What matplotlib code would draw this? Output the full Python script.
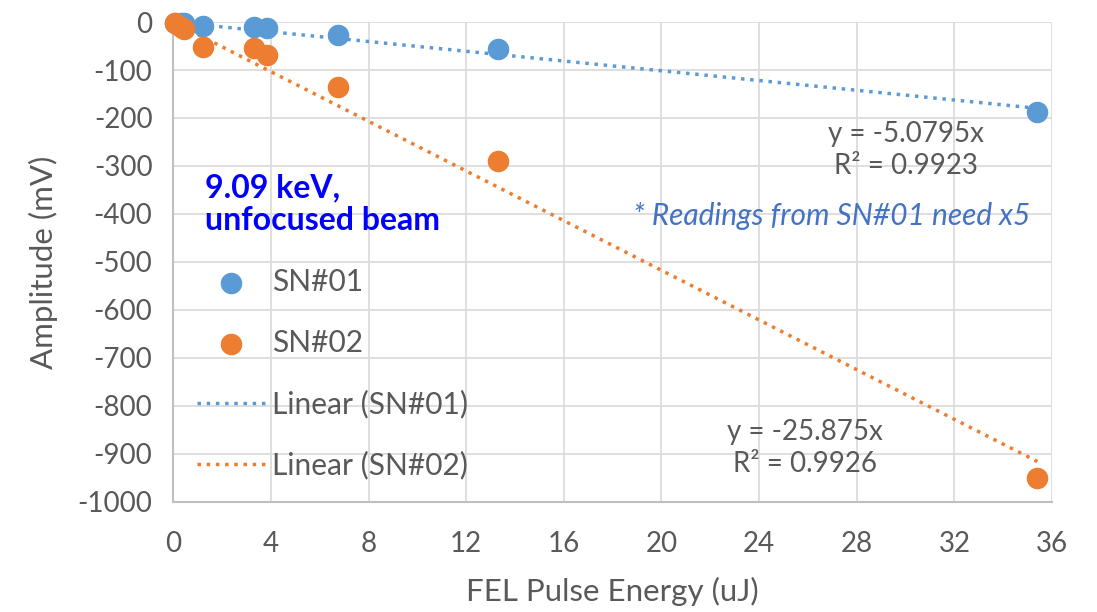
import numpy as np
import matplotlib.pyplot as plt

plt.rcParams['font.family'] = ['Lato', 'DejaVu Sans']
plt.rcParams['axes.unicode_minus'] = False

energy = [0.08, 0.3, 0.45, 1.2, 3.3, 3.85, 6.75, 13.3, 35.4]
amp_sn01 = [-1, -2, -3, -9, -10, -12, -27, -57, -187]
amp_sn02 = [-2, -10, -15, -52, -54, -69, -136, -290, -950]
slope_sn01, r2_sn01 = -5.0795, 0.9923
slope_sn02, r2_sn02 = -25.875, 0.9926

blue, orange = '#5B9BD5', '#ED7D31'
gray = '#595959'

fig = plt.figure(figsize=(10.97, 6.12), dpi=100)
ax = fig.add_axes([0.158, 0.18, 0.801, 0.784])

ax.scatter(energy, amp_sn01, s=210, color=blue, label='SN#01', zorder=3, clip_on=False)
ax.scatter(energy, amp_sn02, s=210, color=orange, label='SN#02', zorder=3, clip_on=False)

xfit = np.array([0, max(energy)])
ax.plot(xfit, slope_sn01 * xfit, ':', color=blue, lw=2.5, label='Linear (SN#01)', zorder=2)
ax.plot(xfit, slope_sn02 * xfit, ':', color=orange, lw=2.5, label='Linear (SN#02)', zorder=2)

ax.set_xlim(0, 36)
ax.set_ylim(-1000, 0)
ax.set_xticks(np.arange(0, 37, 4))
ax.set_yticks(np.arange(-1000, 1, 100))
ax.grid(True, color='#D9D9D9', lw=1.2)
ax.set_axisbelow(True)
for s in ['top', 'right']:
    ax.spines[s].set_visible(False)
for s in ['left', 'bottom']:
    ax.spines[s].set_color('#BFBFBF')
    ax.spines[s].set_linewidth(1.5)
ax.tick_params(length=0, labelsize=20, colors=gray)
ax.tick_params(axis='y', pad=15)
ax.tick_params(axis='x', pad=21)
ax.set_xlabel('FEL Pulse Energy (uJ)', fontsize=22.5, color=gray, labelpad=14)
ax.set_ylabel('Amplitude (mV)', fontsize=22.5, color=gray, labelpad=14)

ax.text(906 / 1097, 1 - 150 / 612, f'y = {slope_sn01}x\nR² = {r2_sn01}', transform=fig.transFigure,
        ha='center', va='center', fontsize=20, color=gray, linespacing=1.25)
ax.text(805 / 1097, 1 - 448 / 612, f'y = {slope_sn02}x\nR² = {r2_sn02}', transform=fig.transFigure,
        ha='center', va='center', fontsize=20, color=gray, linespacing=1.25)
ax.text(832 / 1097, 1 - 216 / 612, '* Readings from SN#01 need x5', transform=fig.transFigure,
        ha='center', va='center', fontsize=21.5, color='#4472C4', style='italic')
ax.text(205 / 1097, 1 - 204 / 612, '9.09 keV,\nunfocused beam', transform=fig.transFigure,
        ha='left', va='center', fontsize=23, color='#0000FF', fontweight='bold', linespacing=1.15)

ax.legend(loc='upper left', bbox_to_anchor=(185 / 1097, 1 - 256 / 612), bbox_transform=fig.transFigure,
          borderaxespad=0, frameon=False, fontsize=21.5, labelspacing=1.1, handlelength=2.3,
          handletextpad=0.2, labelcolor=gray, scatterpoints=1)

fig.savefig('out.png', dpi=100)
